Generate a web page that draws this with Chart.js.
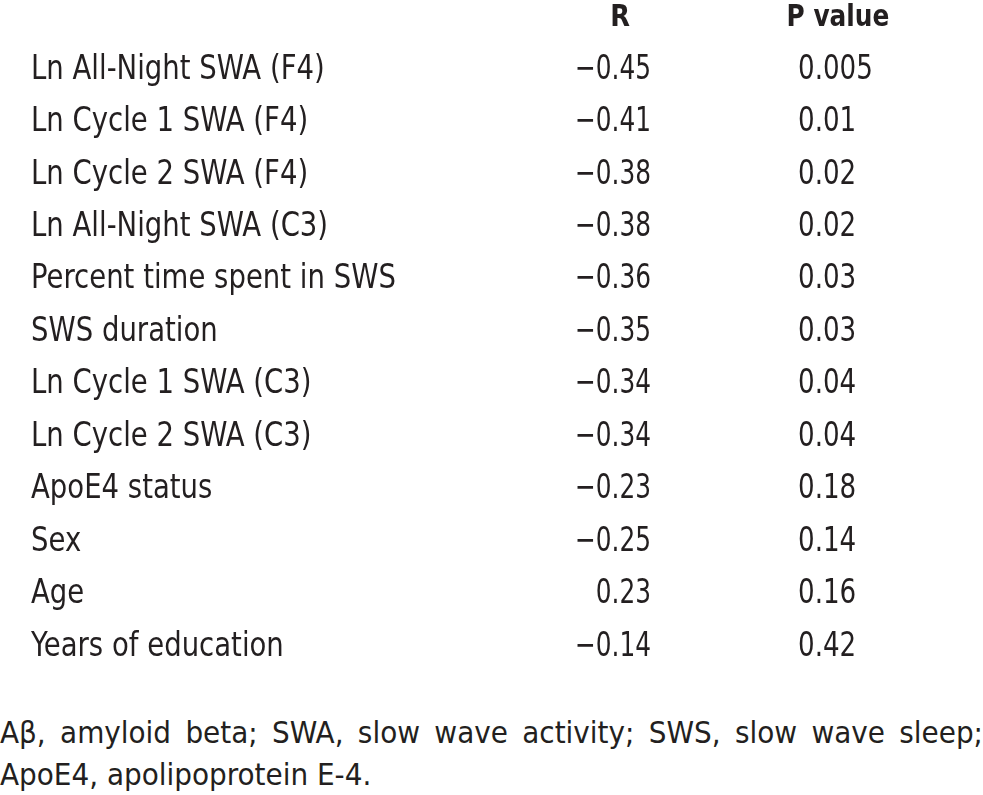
<!DOCTYPE html>
<html>
<head>
<meta charset="utf-8">
<script src="https://cdn.jsdelivr.net/npm/chart.js@4.4.0/dist/chart.umd.min.js"></script>
<style>
  html, body { margin: 0; padding: 0; background: #fff; }
  #wrap { position: relative; width: 983px; height: 700px; }
  .note {
    position: absolute; left: 0; width: 983px;
    font-family: 'Liberation Sans Narrow', 'DejaVu Sans Condensed', sans-serif;
    font-size: 31px; line-height: 42px; color: #231f20;
    margin: 0; white-space: nowrap;
  }
  .l1 { top: 711px; text-align: justify; text-align-last: justify; white-space: normal; }
  .l2 { top: 753px; }
</style>
</head>
<body>
<div id="wrap"><canvas id="table"></canvas></div>
<div class="note l1">Aβ, amyloid beta; SWA, slow wave activity; SWS, slow wave sleep;</div>
<div class="note l2">ApoE4, apolipoprotein E-4.</div>
<script>
// Table contents
const headers = ['R', 'P value'];
const rowLabels = [
  'Ln All-Night SWA (F4)',
  'Ln Cycle 1 SWA (F4)',
  'Ln Cycle 2 SWA (F4)',
  'Ln All-Night SWA (C3)',
  'Percent time spent in SWS',
  'SWS duration',
  'Ln Cycle 1 SWA (C3)',
  'Ln Cycle 2 SWA (C3)',
  'ApoE4 status',
  'Sex',
  'Age',
  'Years of education'
];
const rValues = [-0.45, -0.41, -0.38, -0.38, -0.36, -0.35, -0.34, -0.34, -0.23, -0.25, 0.23, -0.14];
const pValues = [0.005, 0.01, 0.02, 0.02, 0.03, 0.03, 0.04, 0.04, 0.18, 0.14, 0.16, 0.42];

// Column anchors on the x scale (0..983)
const COL_LABEL = 31;
const COL_R_HEAD = 620;
const COL_R = 651;
const COL_P_HEAD = 838;
const COL_P = 798;

const FONT = "'Liberation Sans Narrow', 'DejaVu Sans Condensed', sans-serif";
const TEXT = '#231f20';

const fmtR = v => v.toFixed(2).replace('-', '\u2212');
const fmtP = v => String(v);

// the original face is a tall narrow sans, so squeeze/stretch the fallback a bit
function drawText(ctx, text, x, y, align, sx, sy) {
  ctx.save();
  ctx.translate(x, y);
  ctx.scale(sx, sy);
  ctx.textAlign = align;
  ctx.fillText(text, 0, 0);
  ctx.restore();
}

// Draws header and cells using the chart scales
const tablePlugin = {
  id: 'tableText',
  afterDraw(chart) {
    const { ctx, scales: { x, y } } = chart;
    ctx.save();
    ctx.fillStyle = TEXT;
    ctx.textBaseline = 'alphabetic';

    const hy = y.getPixelForValue(0);
    ctx.font = 'bold 30px ' + FONT;
    drawText(ctx, headers[0], x.getPixelForValue(COL_R_HEAD), hy, 'center', 0.95, 1.0);
    drawText(ctx, headers[1], x.getPixelForValue(COL_P_HEAD), hy, 'center', 0.92, 1.0);

    ctx.font = '30px ' + FONT;
    rowLabels.forEach((label, i) => {
      const py = y.getPixelForValue(i + 1);
      drawText(ctx, label, x.getPixelForValue(COL_LABEL), py, 'left', 1.02, 1.13);
      drawText(ctx, fmtR(rValues[i]), x.getPixelForValue(COL_R), py, 'right', 0.92, 1.13);
      drawText(ctx, fmtP(pValues[i]), x.getPixelForValue(COL_P), py, 'left', 0.97, 1.13);
    });
    ctx.restore();
  }
};

new Chart(document.getElementById('table'), {
  type: 'scatter',
  data: { datasets: [] },
  options: {
    responsive: true,
    maintainAspectRatio: false,
    animation: false,
    layout: { padding: 0 },
    plugins: { legend: { display: false }, tooltip: { enabled: false } },
    scales: {
      x: { type: 'linear', min: 0, max: 983, display: false },
      // y value = row index, pixel = text baseline
      y: { type: 'linear', reverse: true, min: -0.5, max: 12.846, display: false }
    }
  },
  plugins: [tablePlugin]
});
</script>
</body>
</html>
